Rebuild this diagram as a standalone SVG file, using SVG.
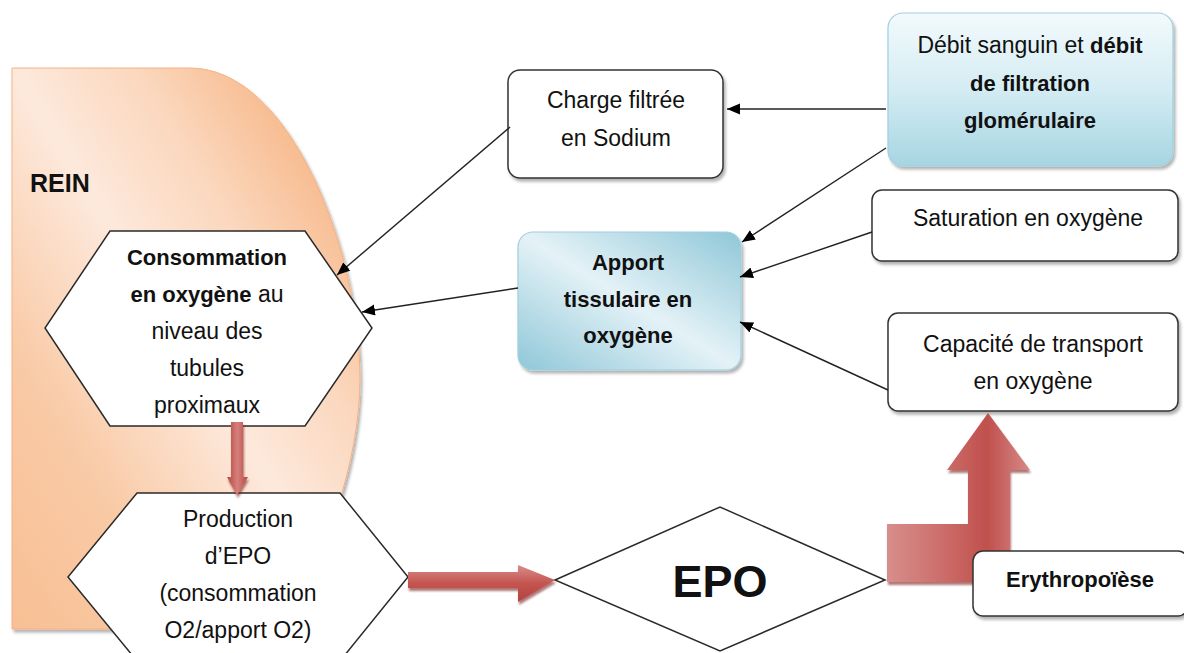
<svg xmlns="http://www.w3.org/2000/svg" width="1184" height="653" viewBox="0 0 1184 653">
<defs>
<style>
text{font-family:"Liberation Sans",Arial,sans-serif;fill:#111;}
.r{font-size:23px;}
.b{font-size:22px;font-weight:bold;}
.c{text-anchor:middle;}
.wb{fill:#fff;stroke:#333;stroke-width:1.5;}
.hx{fill:#fff;stroke:#2a2a2a;stroke-width:1.5;}
.ln{fill:none;stroke:#222;stroke-width:1.4;marker-end:url(#ah);}
</style>
<marker id="ah" markerUnits="userSpaceOnUse" markerWidth="14" markerHeight="12" refX="13" refY="5.5" orient="auto">
<path d="M0,0 L13,5.5 L0,11 Z" fill="#000"/>
</marker>
<filter id="sh" x="-10%" y="-10%" width="130%" height="130%">
<feDropShadow dx="2" dy="3" stdDeviation="1.5" flood-color="#000" flood-opacity="0.3"/>
</filter>
<filter id="shr" x="-10%" y="-20%" width="130%" height="150%">
<feDropShadow dx="1" dy="3" stdDeviation="1" flood-color="#7a1e1c" flood-opacity="0.6"/>
</filter>
<linearGradient id="rein" x1="0" y1="1" x2="1" y2="0">
<stop offset="0" stop-color="#f8bf94"/>
<stop offset="0.25" stop-color="#f9caa6"/>
<stop offset="0.5" stop-color="#fde9dc"/>
<stop offset="0.68" stop-color="#fbd7bd"/>
<stop offset="0.85" stop-color="#f7bb8f"/>
<stop offset="1" stop-color="#f6b383"/>
</linearGradient>
<linearGradient id="debit" x1="0" y1="0" x2="0" y2="1">
<stop offset="0" stop-color="#f3fafc"/>
<stop offset="0.5" stop-color="#d4ecf3"/>
<stop offset="1" stop-color="#a6d5e2"/>
</linearGradient>
<linearGradient id="apport" x1="1" y1="0" x2="0" y2="1">
<stop offset="0" stop-color="#8fc7d8"/>
<stop offset="0.5" stop-color="#e4f2f7"/>
<stop offset="1" stop-color="#8fc7d8"/>
</linearGradient>
<linearGradient id="redh" x1="0" y1="0" x2="0" y2="1">
<stop offset="0" stop-color="#d98d8b"/>
<stop offset="0.5" stop-color="#c4544f"/>
<stop offset="1" stop-color="#b3443f"/>
</linearGradient>
<linearGradient id="redv" x1="0" y1="0" x2="1" y2="0">
<stop offset="0" stop-color="#b9463f"/>
<stop offset="0.5" stop-color="#d5807d"/>
<stop offset="1" stop-color="#b9463f"/>
</linearGradient>
<linearGradient id="redb" gradientUnits="userSpaceOnUse" x1="887" y1="0" x2="1030" y2="0">
<stop offset="0" stop-color="#d78e8c"/>
<stop offset="0.35" stop-color="#cd716e"/>
<stop offset="0.7" stop-color="#c0504d"/>
<stop offset="1" stop-color="#d68a88"/>
</linearGradient>
</defs>
<rect width="1184" height="653" fill="#fff"/>

<g id="rein">
<path d="M12,68 L190,68 C290,68 360,250 360,380 C360,420 350,470 338,505 L290,629 L12,629 Z" fill="url(#rein)" stroke="#f4b183" stroke-width="1" filter="url(#sh)"/>
<text x="30" y="192" style="font-size:25px;font-weight:bold;">REIN</text>
</g>

<g id="consommation">
<polygon class="hx" points="110,231 305,231 372,328 305,426 110,426 45,328"/>
<text class="c b" x="207" y="265">Consommation</text>
<text class="c" x="207" y="302"><tspan class="b">en oxygène</tspan><tspan class="r"> au</tspan></text>
<text class="c r" x="207" y="339">niveau des</text>
<text class="c r" x="207" y="376">tubules</text>
<text class="c r" x="207" y="413">proximaux</text>
</g>

<g id="production">
<polygon class="hx" points="137,493 340,493 408,577 340,661 137,661 68,577"/>
<text class="c r" x="238" y="527">Production</text>
<text class="c r" x="238" y="564">d’EPO</text>
<text class="c r" x="238" y="601">(consommation</text>
<text class="c r" x="238" y="638">O2/apport O2)</text>
</g>

<g id="epo">
<polygon fill="#fff" stroke="#2a2a2a" stroke-width="1.5" points="555,580 720,507 885,580 720,651"/>
<text class="c" x="720" y="597" style="font-size:45px;font-weight:bold;">EPO</text>
</g>

<g id="charge">
<rect class="wb" x="508" y="70" width="215" height="108" rx="12" filter="url(#sh)"/>
<text class="c r" x="616" y="108">Charge filtrée</text>
<text class="c r" x="616" y="146">en Sodium</text>
</g>

<g id="debit">
<rect x="888" y="13" width="285" height="153" rx="15" fill="url(#debit)" stroke="#9fd0de" stroke-width="1.2" filter="url(#sh)"/>
<text class="c" x="1030" y="53"><tspan class="r">Débit sanguin et </tspan><tspan class="b">débit</tspan></text>
<text class="c b" x="1030" y="91">de filtration</text>
<text class="c b" x="1030" y="128">glomérulaire</text>
</g>

<g id="saturation">
<rect class="wb" x="872" y="190" width="306" height="71" rx="10" filter="url(#sh)"/>
<text class="c r" x="1028" y="226">Saturation en oxygène</text>
</g>

<g id="apport">
<rect x="518" y="232" width="223" height="138" rx="15" fill="url(#apport)" stroke="#9fd0de" stroke-width="1.2" filter="url(#sh)"/>
<text class="c b" x="628" y="270">Apport</text>
<text class="c b" x="628" y="307">tissulaire en</text>
<text class="c b" x="628" y="343">oxygène</text>
</g>

<g id="capacite">
<rect class="wb" x="888" y="313" width="290" height="98" rx="10" filter="url(#sh)"/>
<text class="c r" x="1033" y="352">Capacité de transport</text>
<text class="c r" x="1033" y="389">en oxygène</text>
</g>

<g id="connectors">
<line class="ln" x1="886" y1="109" x2="727" y2="109"/>
<line class="ln" x1="886" y1="148" x2="742" y2="242"/>
<line class="ln" x1="872" y1="232" x2="740" y2="277"/>
<line class="ln" x1="888" y1="390" x2="740" y2="322"/>
<line class="ln" x1="510" y1="127" x2="337" y2="275"/>
<line class="ln" x1="518" y1="288" x2="362" y2="312"/>
<path d="M231,422 L243,422 L243,477 L248,477 L237,495 L227,477 L231,477 Z" fill="url(#redv)" filter="url(#shr)"/>
<path d="M408,572 L518,572 L518,565 L555,580 L518,602 L518,588 L408,588 Z" fill="url(#redh)" filter="url(#shr)"/>
<path d="M887,582 L887,524 L968,524 L968,470 L947,470 L988,413 L1030,470 L1010,470 L1010,582 Z" fill="url(#redb)" filter="url(#shr)"/>
</g>

<g id="erythropoiese">
<rect class="wb" x="973" y="551" width="215" height="65" rx="10" filter="url(#sh)"/>
<text class="c b" x="1080" y="587">Erythropoïèse</text>
</g>
</svg>
